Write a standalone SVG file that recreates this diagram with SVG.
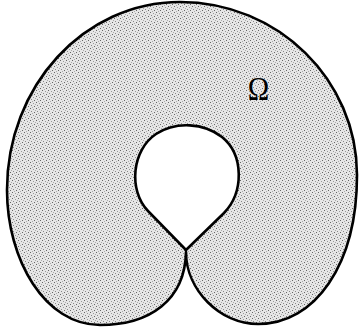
<svg xmlns="http://www.w3.org/2000/svg" width="359" height="333" viewBox="0 0 359 333">
  <defs>
    <pattern id="stipple" width="6" height="6" patternUnits="userSpaceOnUse">
      <rect width="6" height="6" fill="#e6e6e6"/>
      <rect x="0" y="0" width="1" height="1" fill="#666"/>
      <rect x="3" y="1" width="1" height="1" fill="#999"/>
      <rect x="1" y="3" width="1" height="1" fill="#888"/>
      <rect x="4" y="4" width="1" height="1" fill="#666"/>
      <rect x="2" y="5" width="1" height="1" fill="#aaa"/>
      <rect x="5" y="2" width="1" height="1" fill="#aaa"/>
    </pattern>
    <style>
      .edge { stroke: #000; stroke-width: 2.6; stroke-linejoin: round; }
    </style>
  </defs>
  <rect width="359" height="333" fill="#fff"/>
  <g id="omega-region">
    <path class="edge" fill="url(#stipple)" d="M186,252 C186,290 220,324 258,324 C315,324 357,265 357,175 C357,80 278,2 180,2 C84,2 7,86 7,190 C7,260 45,325 100,325 C150,325 185,300 186,252 Z"/>
    <path class="edge" fill="#fff" d="M186,250 L148,211 C128,190 132,150 156,134 C176,121 204,123 222,137 C244,155 244,192 224,213 Z"/>
  </g>
  <text x="258.5" y="100" font-family="Liberation Serif, serif" font-size="34" text-anchor="middle" fill="#000" transform="translate(258.5 0) scale(0.85 1) translate(-258.5 0)">Ω</text>
</svg>
